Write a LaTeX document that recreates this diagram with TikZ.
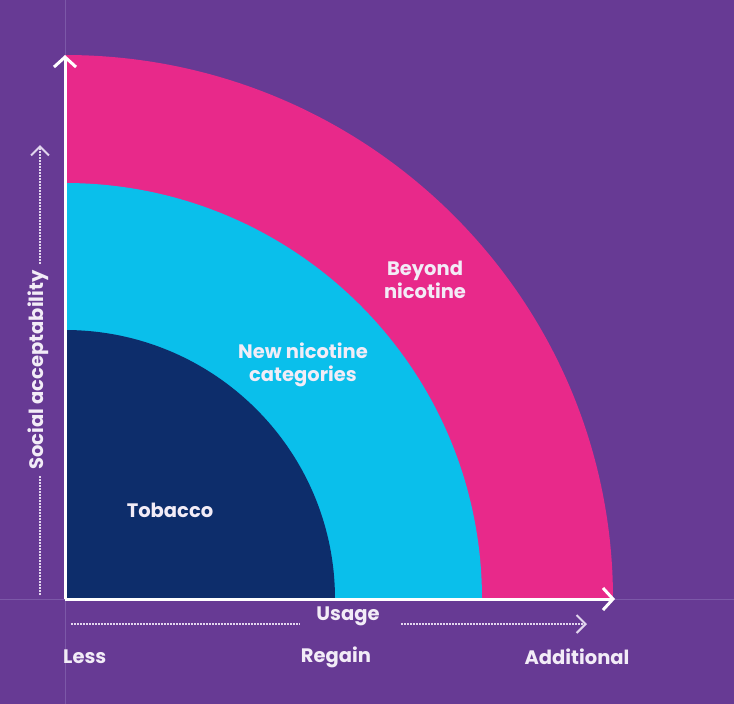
\documentclass[tikz,border=0pt]{standalone}
\usepackage{fontspec}
\setmainfont{Poppins}
\usetikzlibrary{arrows.meta}
\definecolor{bgpurple}{HTML}{673A94}
\definecolor{guide}{HTML}{7C58A8}
\definecolor{navy}{HTML}{0D2D6B}
\definecolor{cyanband}{HTML}{0ABFEB}
\definecolor{pinkband}{HTML}{E8298A}
\definecolor{lav}{HTML}{E2D6EE}
\definecolor{txt}{HTML}{F2ECF7}
\begin{document}
\begin{tikzpicture}[x=1pt,y=-1pt,
  lbl/.style={text=txt,font=\fontsize{19.5}{23}\selectfont\bfseries,align=center,inner sep=0pt},
  axisline/.style={draw=white,line width=3pt,-{Straight Barb[length=10pt,width=22pt,line width=3pt]}},
  dotline/.style={draw=lav,line width=2.2pt,dash pattern=on 1.6pt off 1.4pt},
  dotarrow/.style={dotline,-{Straight Barb[length=9pt,width=18pt,line width=2pt,sep=0pt]}},
  guideline/.style={draw=guide,line width=1pt}]
\fill[bgpurple] (0,0) rectangle (734,704);
\useasboundingbox (0,0) rectangle (734,704);
% guide lines
\coordinate (gT) at (65,0);
\coordinate (gB) at (65,704);
\coordinate (gL) at (0,599);
\coordinate (gR) at (734,599);
\draw[guideline] (gT) -- (gB);
\draw[guideline] (gL) -- (gR);
% bands
\coordinate (O) at (65,599);
\fill[pinkband] (O) -- (613,599) arc[start angle=0,end angle=90,x radius=548pt,y radius=544pt] -- cycle;
\fill[cyanband] (O) -- (482,599) arc[start angle=0,end angle=90,x radius=417pt,y radius=416pt] -- cycle;
\fill[navy] (O) -- (335,599) arc[start angle=0,end angle=90,x radius=270pt,y radius=269pt] -- cycle;
% axes
\coordinate (xEnd) at (615,599);
\coordinate (yEnd) at (65,55);
\draw[axisline] (O) -- (xEnd);
\draw[axisline] (O) -- (yEnd);
% band labels
\node[lbl] (tob) at (170,510) {Tobacco};
\node[lbl] (nnc) at (303,365) {New nicotine\\categories};
\node[lbl] (bey) at (425,280) {Beyond\\nicotine};
% usage axis
\coordinate (u1) at (71,624);
\coordinate (u2) at (300,624);
\coordinate (u3) at (401,624);
\coordinate (u4) at (587,624);
\draw[dotline] (u1) -- (u2);
\draw[dotarrow] (u3) -- (u4);
\node[lbl] (usage) at (348,616) {Usage};
\node[lbl,anchor=west] (less) at (63,657) {Less};
\node[lbl] (regain) at (336,657) {Regain};
\node[lbl] (addl) at (577,657) {Additional};
% social acceptability axis
\coordinate (s1) at (40,595);
\coordinate (s2) at (40,476);
\coordinate (s3) at (40,264);
\coordinate (s4) at (40,145);
\draw[dotline] (s1) -- (s2);
\draw[dotarrow] (s3) -- (s4);
\node[lbl,rotate=90] (social) at (38,370) {Social acceptability};
\end{tikzpicture}
\end{document}
